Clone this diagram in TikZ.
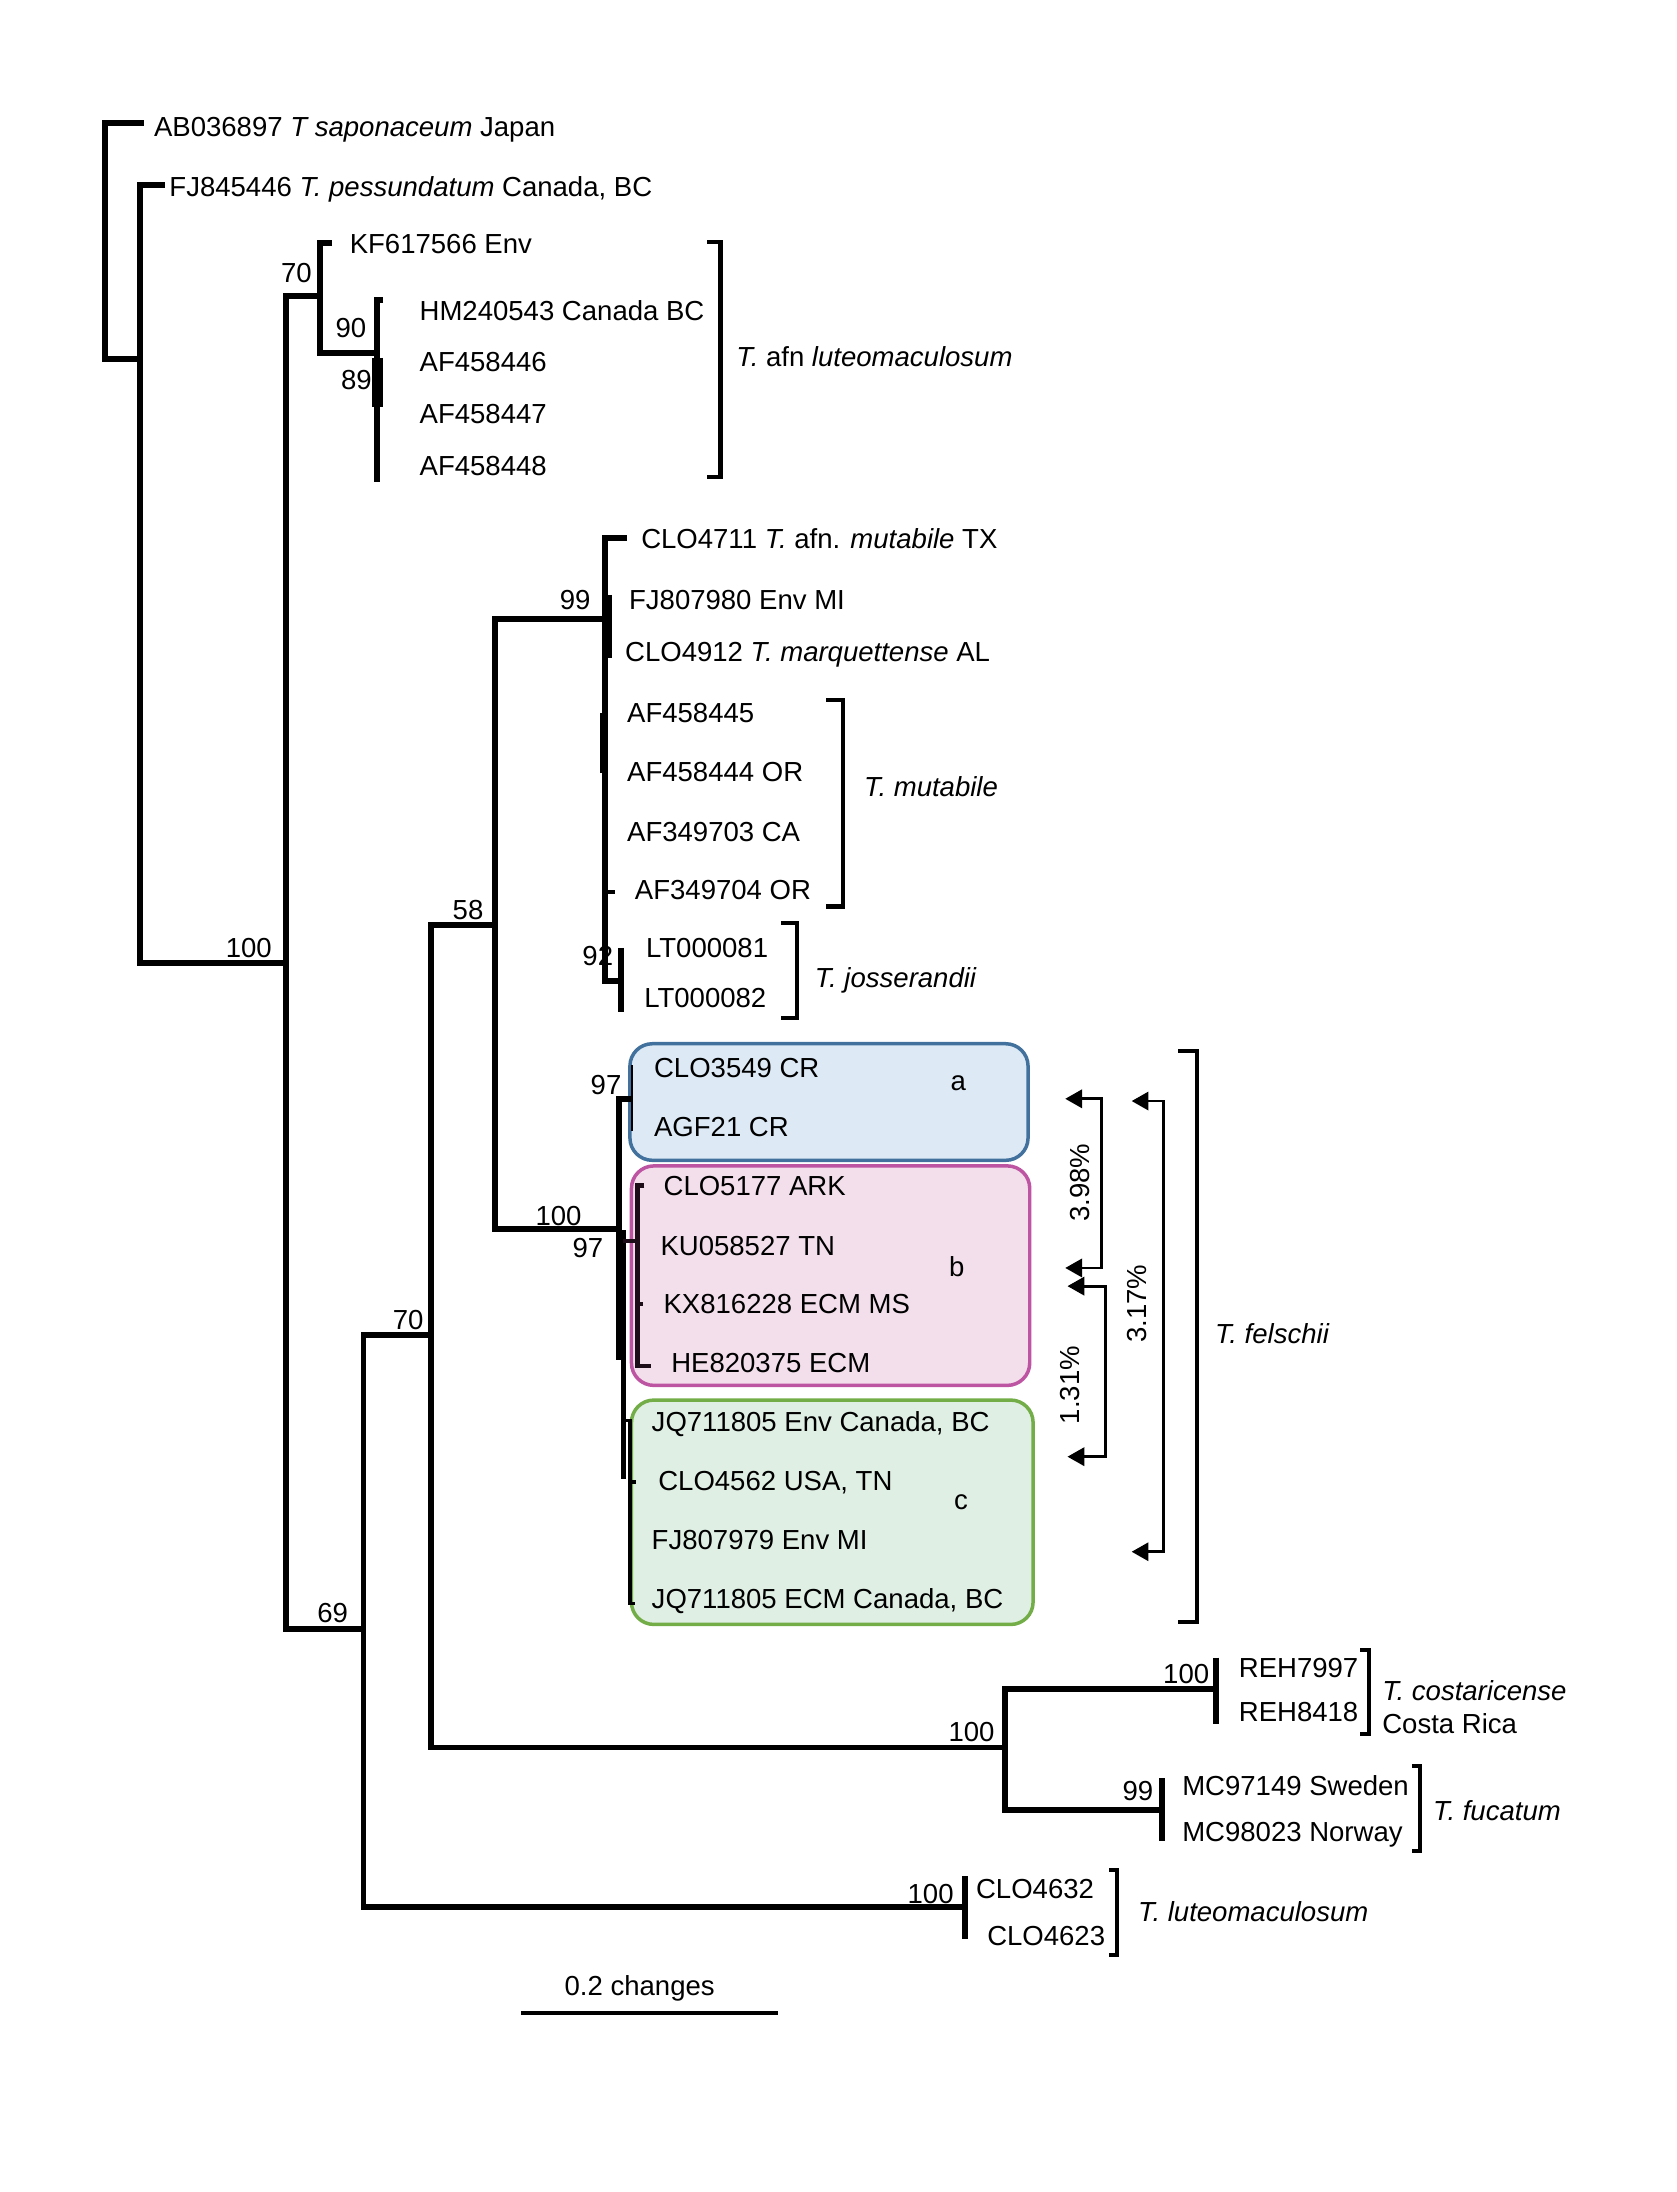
\documentclass[tikz,border=0pt]{standalone}
\usepackage{fontspec}
\setmainfont{Liberation Sans}
\usetikzlibrary{arrows.meta}

\definecolor{grpablue}{HTML}{DDEAF6}
\definecolor{grpaline}{HTML}{41719C}
\definecolor{grpbpink}{HTML}{F2DFEB}
\definecolor{grpbline}{HTML}{BD55A3}
\definecolor{grpcgreen}{HTML}{DFEFE4}
\definecolor{grpcline}{HTML}{72AD47}

\begin{document}
\begin{tikzpicture}[
  x=1pt, y=-1pt,
  branch/.style={line width=4.2pt},
  bracket/.style={line width=3pt},
  distarr/.style={line width=2pt, {Triangle[length=12pt,width=13pt]}-{Triangle[length=12pt,width=13pt]}},
  leaf/.style={anchor=base west, inner sep=0pt, font=\fontsize{19.7}{23}\selectfont},
  boot/.style={inner sep=0pt, font=\fontsize{19.7}{23}\selectfont},
  grp/.style={rounded corners=16pt, line width=2.5pt}
]
\useasboundingbox (0,0) rectangle (1199,1568);

% groups a, b, c
\draw[grp, fill=grpablue, draw=grpaline] (450.6,746.6) rectangle (735.4,830);
\draw[grp, fill=grpbpink, draw=grpbline] (451.7,834) rectangle (736.6,991);
\draw[grp, fill=grpcgreen, draw=grpcline] (451.7,1001.5) rectangle (739,1162);

% tree
\draw[branch] (103,88) -| (75,257) -- (100,257);
\draw[branch] (118,132.6) -| (100,689) -- (204.5,689);
\draw[branch] (228.7,212) -| (204.5,1165) -- (260,1165);
\draw[branch] (237.6,174) -| (228.7,252.6) -- (269.7,252.6);
\draw[branch] (274,214.6) -| (269.7,344.5);
\draw[line width=8pt] (270,256) -- (270,291);
\draw[branch] (308.5,955) -| (260,1364) -- (690,1364);
\draw[branch] (354,661.7) -| (308.5,1250) -- (719,1250);
\draw[branch] (870,1208) -| (719,1295) -- (831,1295);
\draw[branch] (870,1185.8) -- (870,1233);
\draw[branch] (831,1272) -- (831,1317);
\draw[branch] (690,1342) -- (690,1387);
\draw[branch] (432.5,443) -| (354,879) -- (443,879);
\draw[branch] (448.5,385) -| (432.5,702) -- (444,702);
\draw[branch] (444,678) -- (444,724);
\draw[line width=5pt] (435,425.6) -- (435,470.8);
\draw[line width=4pt] (431,510) -- (431,553);
\draw[line width=3pt] (432.5,637.8) -- (440,637.8);
\draw[branch] (452,786) -| (443,882);
\draw[line width=7pt] (444,880) -- (444,973);
\draw[line width=3pt] (446,971) -- (446,1058);
\draw[line width=1.6pt] (452,762) -- (452,809);
\draw[line width=3pt, black!85!grpbline] (461,848) -| (456,977) -- (466,977);
\draw[line width=3pt, black!85!grpbline] (446,888) -- (456,888);
\draw[line width=3pt, black!85!grpbline] (456,933) -- (460,933);
\draw[line width=2.5pt] (446,1016) -| (450.5,1147) -- (454,1147);
\draw[line width=2.5pt] (450.5,1060) -- (455,1060);

% support values
\node[boot] (s1) at (178,678) {100};
\node[boot] (s2) at (212,195) {70};
\node[boot] (s3) at (251,234.7) {90};
\node[boot] (s4) at (255,272) {89};
\node[boot] (s5) at (238,1154) {69};
\node[boot] (s6) at (292,944) {70};
\node[boot] (s7) at (334.8,651) {58};
\node[boot] (s8) at (411.4,429) {99};
\node[boot] (s9) at (427.6,684) {92};
\node[boot] (s10) at (433.5,776) {97};
\node[boot] (s11) at (399.5,869.5) {100};
\node[boot] (s12) at (420.6,893) {97};
\node[boot] (s13) at (848.5,1197.8) {100};
\node[boot] (s14) at (695,1239) {100};
\node[boot] (s15) at (814,1281) {99};
\node[boot] (s16) at (665.7,1355) {100};

% leaves
\node[leaf] (ab) at (110,97.6) {AB036897 \textit{T saponaceum} Japan};
\node[leaf] (fjpess) at (121,140.5) {FJ845446 \textit{T. pessundatum} Canada, BC};
\node[leaf] (kf) at (250,181) {KF617566 Env};
\node[leaf] (hm) at (300,229) {HM240543 Canada BC};
\node[leaf] (af446) at (300,266) {AF458446};
\node[leaf] (af447) at (300,302.6) {AF458447};
\node[leaf] (af448) at (300,340.4) {AF458448};
\node[leaf] (clo4711) at (458.5,392) {CLO4711 \textit{T.} afn. \textit{mutabile} TX};
\node[leaf] (fj980) at (449.8,436) {FJ807980 Env MI};
\node[leaf] (clo4912) at (447,473) {CLO4912 \textit{T. marquettense} AL};
\node[leaf] (af445) at (448.4,517) {AF458445};
\node[leaf] (af444) at (448.4,559) {AF458444 OR};
\node[leaf] (af703) at (448.4,602) {AF349703 CA};
\node[leaf] (af704) at (454,643.6) {AF349704 OR};
\node[leaf] (lt81) at (462,685) {LT000081};
\node[leaf] (lt82) at (460.7,721) {LT000082};
\node[leaf] (clo3549) at (467.7,770.5) {CLO3549 CR};
\node[leaf] (agf21) at (467.7,813) {AGF21 CR};
\node[leaf] (clo5177) at (474.5,855.4) {CLO5177 ARK};
\node[leaf] (ku) at (472.3,897.8) {KU058527 TN};
\node[leaf] (kx) at (474.5,939.6) {KX816228 ECM MS};
\node[leaf] (he) at (480,982) {HE820375 ECM};
\node[leaf] (jqenv) at (466,1024) {JQ711805 Env Canada, BC};
\node[leaf] (clo4562) at (470.7,1066) {CLO4562 USA, TN};
\node[leaf] (fj979) at (466,1108.4) {FJ807979 Env MI};
\node[leaf] (jqecm) at (466,1150.8) {JQ711805 ECM Canada, BC};
\node[leaf] (reh7997) at (886,1199.6) {REH7997};
\node[leaf] (reh8418) at (886,1231.6) {REH8418};
\node[leaf] (mc149) at (845.5,1284.6) {MC97149 Sweden};
\node[leaf] (mc023) at (845.5,1317) {MC98023 Norway};
\node[leaf] (clo4632) at (698,1358) {CLO4632};
\node[leaf] (clo4623) at (706,1392) {CLO4623};

% group letters
\node[boot] (ga) at (685.4,774.7) {a};
\node[boot] (gb) at (684.4,906) {b};
\node[boot] (gc) at (687.5,1074.6) {c};

% species brackets
\draw[bracket] (505.8,173) -- (515.4,173) -- (515.4,341) -- (505.8,341);
\draw[bracket] (591,500.7) -- (603,500.7) -- (603,648.5) -- (591,648.5);
\draw[bracket] (559,660) -- (570,660) -- (570,728) -- (559,728);
\draw[bracket] (843,752) -- (856,752) -- (856,1160) -- (843,1160);
\draw[bracket] (973,1180) -- (979.4,1180) -- (979.4,1240.5) -- (973,1240.5);
\draw[bracket] (1010,1263) -- (1015.8,1263) -- (1015.8,1324) -- (1010,1324);
\draw[bracket] (793.3,1337.8) -- (799,1337.8) -- (799,1398.5) -- (793.3,1398.5);
\node[leaf] (afnluteo) at (526.6,262) {\textit{T.} afn \textit{luteomaculosum}};
\node[leaf] (mutabile) at (618,569.7) {\textit{T. mutabile}};
\node[leaf] (josser) at (582.7,706.7) {\textit{T. josserandii}};
\node[leaf] (felschii) at (869,961) {\textit{T. felschii}};
\node[leaf] (costa) at (988.6,1216.6) {\textit{T. costaricense}};
\node[leaf] (costarica) at (988.6,1240) {Costa Rica};
\node[leaf] (fucatum) at (1025,1302.5) {\textit{T. fucatum}};
\node[leaf] (luteo) at (814,1374.6) {\textit{T. luteomaculosum}};

% distances between groups
\draw[distarr] (762,786) -- (788,786) -- (788,907) -- (762,907);
\draw[distarr] (763.6,920) -- (790.5,920) -- (790.5,1042) -- (763.6,1042);
\draw[distarr] (809.5,787.6) -- (832,787.6) -- (832,1110) -- (809.5,1110);
\node[boot, rotate=90] (dab) at (772.5,846) {3.98\%};
\node[boot, rotate=90] (dbc) at (765.4,990.7) {1.31\%};
\node[boot, rotate=90] (dac) at (813,932.5) {3.17\%};

% scale bar
\draw[line width=2.8pt] (372.7,1440) -- (556.5,1440);
\node[boot, anchor=base] (scale) at (457.6,1427.7) {0.2 changes};
\end{tikzpicture}
\end{document}
